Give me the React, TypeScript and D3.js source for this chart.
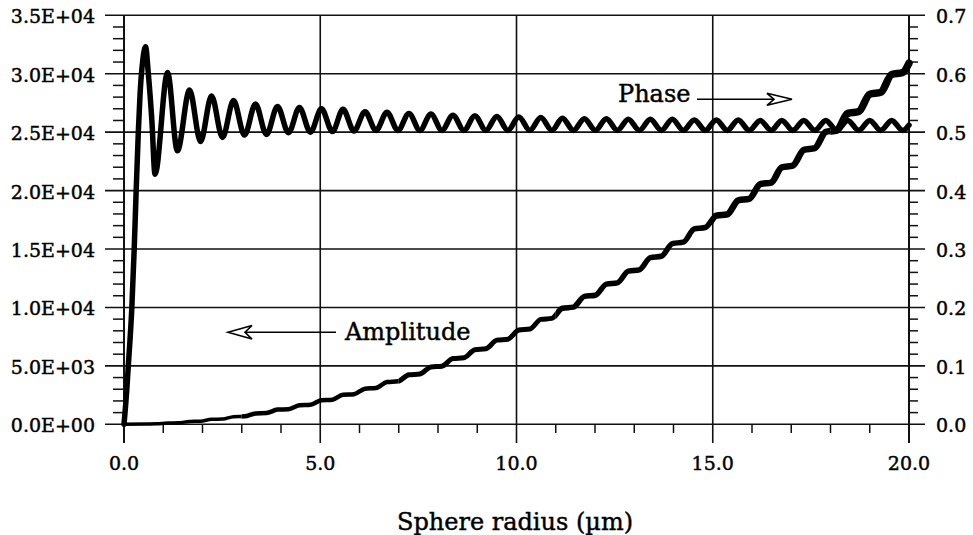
import React from "react";
import * as d3 from "d3";

// ---- data ----
const xTicks = [0, 5, 10, 15, 20];
const xTickLabels = ["0.0", "5.0", "10.0", "15.0", "20.0"];
const leftTicks = [0, 5000, 10000, 15000, 20000, 25000, 30000, 35000];
const leftTickLabels = ["0.0E+00", "5.0E+03", "1.0E+04", "1.5E+04", "2.0E+04", "2.5E+04", "3.0E+04", "3.5E+04"];
const rightTicks = [0, 0.1, 0.2, 0.3, 0.4, 0.5, 0.6, 0.7];
const rightTickLabels = ["0.0", "0.1", "0.2", "0.3", "0.4", "0.5", "0.6", "0.7"];

// Amplitude (left axis) vs sphere radius (µm)
const ampR = [0, 0.55, 0.83, 1.11, 1.39, 1.67, 1.95, 2.23, 2.51, 2.79, 3.07, 3.35, 3.63, 3.91, 4.19, 4.47, 4.75,
  5.03, 5.31, 5.58, 5.86, 6.14, 6.42, 6.70, 6.98, 7.26, 7.54, 7.82, 8.10, 8.38, 8.66, 8.94, 9.22, 9.50, 9.78,
  10.06, 10.34, 10.62, 10.90, 11.17, 11.45, 11.73, 12.01, 12.29, 12.57, 12.85, 13.13, 13.41, 13.69, 13.97, 14.25,
  14.53, 14.81, 15.09, 15.37, 15.65, 15.93, 16.21, 16.49, 16.76, 17.04, 17.32, 17.60, 17.88, 18.16, 18.44, 18.72,
  19.00, 19.28, 19.56, 19.84, 20.0];
const ampV = [0, 30, 40, 115, 127, 247, 263, 427, 447, 656, 680, 933, 963, 1259, 1294, 1634, 1674,
  2058, 2102, 2530, 2579, 3051, 3105, 3621, 3680, 4239, 4303, 4907, 4975, 5623, 5696, 6387, 6466, 7201, 7284,
  8064, 8151, 8975, 9067, 9935, 10032, 10942, 11045, 12000, 12107, 13107, 13218, 14262, 14377, 15464, 15586,
  16717, 16843, 17850, 17970, 19170, 19300, 20550, 20690, 21990, 22130, 23480, 23630, 25020, 25170, 26610, 26770,
  28250, 28410, 29940, 30100, 30900];

// Phase (right axis) vs sphere radius (µm)
const phaseR = [0, 0.07, 0.11, 0.2, 0.26, 0.31, 0.365, 0.41, 0.48, 0.55, 0.62, 0.71, 0.79,
  1.11, 1.36, 1.67, 1.95, 2.23, 2.51, 2.79, 3.07, 3.35, 3.63, 3.91, 4.19, 4.47, 4.75,
  5.03, 5.31, 5.58, 5.86, 6.14, 6.42, 6.70, 6.98, 7.26, 7.54, 7.82, 8.10, 8.38, 8.66, 8.94, 9.22, 9.50, 9.78,
  10.06, 10.34, 10.62, 10.90, 11.17, 11.45, 11.73, 12.01, 12.29, 12.57, 12.85, 13.13, 13.41, 13.69, 13.97, 14.25,
  14.53, 14.81, 15.09, 15.37, 15.65, 15.93, 16.21, 16.49, 16.76, 17.04, 17.32, 17.60, 17.88, 18.16, 18.44, 18.72,
  19.00, 19.28, 19.56, 19.84, 20.0];
const phaseV = [0, 0.058, 0.10, 0.20, 0.30, 0.40, 0.50, 0.566, 0.624, 0.646, 0.60, 0.52, 0.428,
  0.602, 0.468, 0.572, 0.484, 0.562, 0.491, 0.554, 0.495, 0.548, 0.496, 0.544, 0.499, 0.542, 0.500,
  0.540, 0.501, 0.539, 0.502, 0.535, 0.503, 0.534, 0.503, 0.532, 0.503, 0.531, 0.503, 0.529, 0.503, 0.528, 0.503, 0.527, 0.503,
  0.526, 0.503, 0.525, 0.503, 0.524, 0.503, 0.523, 0.503, 0.523, 0.503, 0.522, 0.503, 0.522, 0.503, 0.522, 0.503,
  0.521, 0.503, 0.521, 0.503, 0.521, 0.503, 0.520, 0.503, 0.520, 0.503, 0.520, 0.503, 0.520, 0.503, 0.520, 0.503,
  0.520, 0.503, 0.520, 0.503, 0.512];

// stroke thickness of the amplitude trace grows along x
const ampBandEdges = [0, 3, 7, 11, 15, 18, 20];
const ampBandWidths = [3.5, 4.5, 5, 5.5, 6.5, 7.5];

const FONT = "'DejaVu Serif', 'Liberation Serif', serif";

export default function App() {
  const W = 973, H = 535;
  const x = d3.scaleLinear().domain([0, 20]).range([124, 909]);
  const yL = d3.scaleLinear().domain([0, 35000]).range([424.3, 15.3]);
  const yR = d3.scaleLinear().domain([0, 0.7]).range([424.3, 15.3]);

  const ampData = ampR.map((r, i) => [r, ampV[i]] as [number, number]);
  const phaseData = phaseR.map((r, i) => [r, phaseV[i]] as [number, number]);

  const ampLine = d3.line<[number, number]>().x(d => x(d[0])).y(d => yL(d[1])).curve(d3.curveMonotoneX);
  const phaseLine = d3.line<[number, number]>().x(d => x(d[0])).y(d => yR(d[1])).curve(d3.curveMonotoneX);
  const ampPath = ampLine(ampData) || "";
  const phasePath = phaseLine(phaseData) || "";

  const minorLeft = d3.range(0, 35001, 1000).filter(v => v % 5000 !== 0);
  const minorRight = d3.range(0, 36).map(i => i * 0.02).filter((v, i) => i % 5 !== 0);
  const minorX = d3.range(0, 21).filter(v => v % 5 !== 0);

  const gridStroke = "#111";
  const y0 = yL(0), yTop = yL(35000);
  const txt = { fontFamily: FONT, fill: "#000", stroke: "#000", strokeWidth: 0.45 } as const;

  return (
    <div style={{ position: "fixed", left: 0, top: 0 }}>
      <svg width={W} height={H} viewBox={`0 0 ${W} ${H}`} style={{ display: "block", background: "#fff" }}>
        <defs>
          {ampBandWidths.map((w, i) => (
            <clipPath id={`ampclip${i}`} key={i}>
              <rect
                x={i === 0 ? 0 : x(ampBandEdges[i])}
                y={0}
                width={(i === ampBandWidths.length - 1 ? W : x(ampBandEdges[i + 1])) - (i === 0 ? 0 : x(ampBandEdges[i]))}
                height={H}
              />
            </clipPath>
          ))}
        </defs>

        {/* horizontal grid lines (extend past both axes as major ticks) */}
        {leftTicks.map(t => (
          <line key={"h" + t} x1={105} x2={925} y1={yL(t)} y2={yL(t)} stroke={gridStroke} strokeWidth={1.6} />
        ))}
        {/* vertical grid lines (extend below axis as major ticks) */}
        {xTicks.map(t => (
          <line key={"v" + t} x1={x(t)} x2={x(t)} y1={yTop} y2={443} stroke={gridStroke}
            strokeWidth={t === 0 || t === 20 ? 2 : 1.6} />
        ))}
        {/* minor ticks */}
        {minorLeft.map(v => (
          <line key={"ml" + v} x1={113} x2={124} y1={yL(v)} y2={yL(v)} stroke={gridStroke} strokeWidth={1.5} />
        ))}
        {minorRight.map(v => (
          <line key={"mr" + v} x1={909} x2={918} y1={yR(v)} y2={yR(v)} stroke={gridStroke} strokeWidth={1.5} />
        ))}
        {minorX.map(v => (
          <line key={"mx" + v} x1={x(v)} x2={x(v)} y1={y0} y2={433} stroke={gridStroke} strokeWidth={1.5} />
        ))}

        {/* tick labels */}
        {leftTicks.map((t, i) => (
          <text key={"lt" + t} x={95} y={yL(t) + 1} textAnchor="end" dominantBaseline="central"
            fontSize={19} {...txt}>{leftTickLabels[i]}</text>
        ))}
        {rightTicks.map((t, i) => (
          <text key={"rt" + t} x={936} y={yR(t) + 1} textAnchor="start" dominantBaseline="central"
            fontSize={19} {...txt}>{rightTickLabels[i]}</text>
        ))}
        {xTicks.map((t, i) => (
          <text key={"xt" + t} x={x(t)} y={469.5} textAnchor="middle"
            fontSize={19} {...txt}>{xTickLabels[i]}</text>
        ))}
        <text x={515} y={530} textAnchor="middle" fontSize={24} {...txt}>Sphere radius (µm)</text>

        {/* phase trace */}
        <path d={phasePath} fill="none" stroke="#000" strokeWidth={5.5} strokeLinejoin="round" strokeLinecap="round" />
        {/* amplitude trace, thickening to the right */}
        {ampBandWidths.map((w, i) => (
          <path key={"amp" + i} d={ampPath} clipPath={`url(#ampclip${i})`} fill="none" stroke="#000"
            strokeWidth={w} strokeLinejoin="round" strokeLinecap="round" />
        ))}

        {/* annotations */}
        <text x={618} y={102} fontSize={24} {...txt}>Phase</text>
        <line x1={697} x2={775} y1={99.3} y2={99.3} stroke="#000" strokeWidth={1.5} />
        <path d="M792,99.3 L767,93.3 L774,99.3 L767,105.3 Z" fill="#fff" stroke="#000" strokeWidth={1.6} strokeLinejoin="miter" />

        <text x={345} y={340} fontSize={24} {...txt}>Amplitude</text>
        <line x1={244} x2={336} y1={332.3} y2={332.3} stroke="#000" strokeWidth={1.5} />
        <path d="M228,332.3 L252,325.5 L245,332.3 L252,339.1 Z" fill="#fff" stroke="#000" strokeWidth={1.6} strokeLinejoin="miter" />
      </svg>
    </div>
  );
}
